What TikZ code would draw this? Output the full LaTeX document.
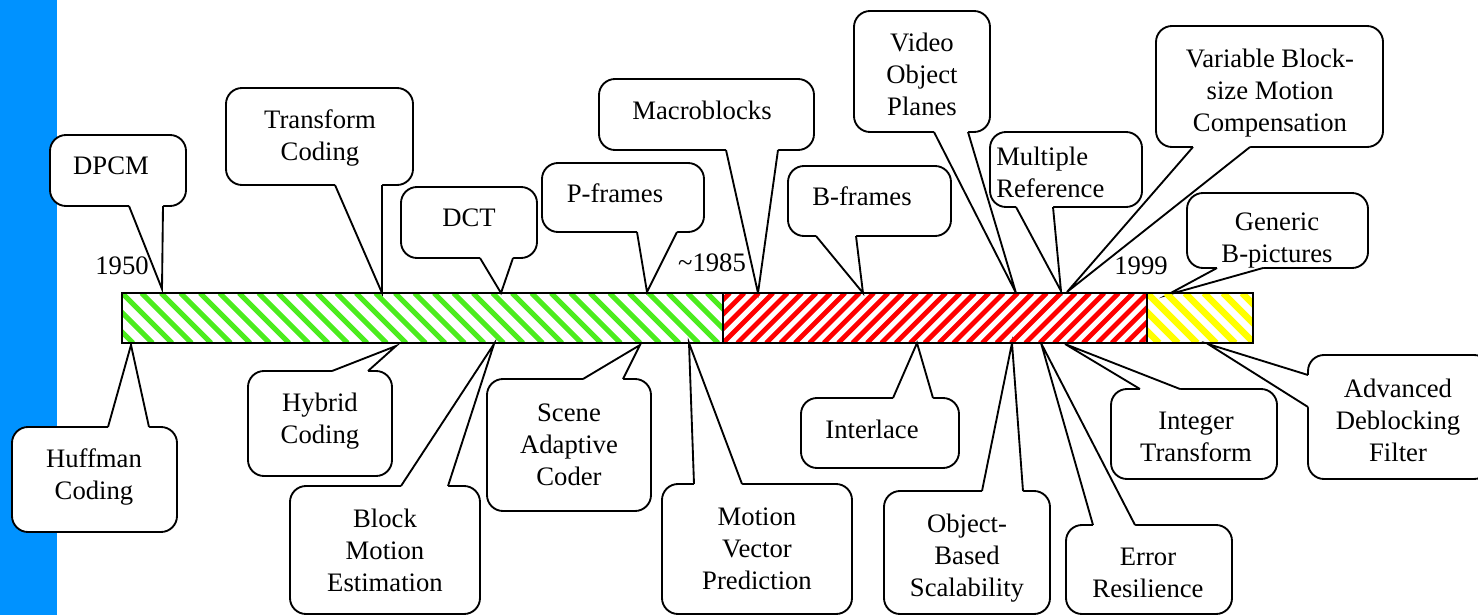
\documentclass[tikz,border=0pt]{standalone}
\usepackage{fontspec}
\setmainfont{Liberation Serif}
\newfontfamily\labelfont{Liberation Serif}
\usetikzlibrary{fit,calc}

\definecolor{sideblue}{RGB}{0,146,255}
\definecolor{hgreen}{RGB}{76,236,30}
\definecolor{hred}{RGB}{255,0,0}
\definecolor{hyellow}{RGB}{255,255,0}

\tikzset{
  cbox/.style={draw, line width=1.4pt, rounded corners=12pt, fill=white,
               inner sep=0pt, outer sep=0pt, fit={#1}},
  % the node centre sits on the middle of the last line's capitals
  ctext/.style={align=center, inner sep=0pt, text height=13.6pt, text depth=0pt,
                font=\labelfont\fontsize{20}{24}\selectfont},
  two lines/.style={yshift=-12pt},
  three lines/.style={yshift=-24pt},
  wedgeline/.style={line width=1.4pt, line join=miter},
  hatch/.style={line width=#1, line cap=butt},
}

% pointer on the lower side of a callout box: #1 box, #2 #3 base x, #4 tip
\newcommand\pointerS[4]{%
  \coordinate (#1-a) at (#2,0 |- #1.south);
  \coordinate (#1-b) at (#3,0 |- #1.south);
  \fill[white] ($(#1-a)+(0,-3)$) -- (#1-a) -- (#4) -- (#1-b) -- ($(#1-b)+(0,-3)$) -- cycle;
  \draw[wedgeline] (#1-a) -- (#4) -- (#1-b);}
% pointer on the upper side of a callout box
\newcommand\pointerN[4]{%
  \coordinate (#1-a) at (#2,0 |- #1.north);
  \coordinate (#1-b) at (#3,0 |- #1.north);
  \fill[white] ($(#1-a)+(0,3)$) -- (#1-a) -- (#4) -- (#1-b) -- ($(#1-b)+(0,3)$) -- cycle;
  \draw[wedgeline] (#1-a) -- (#4) -- (#1-b);}
% pointer on the left side of a callout box: #2 #3 base y
\newcommand\pointerW[4]{%
  \coordinate (#1-a) at (#1.west |- 0,#2);
  \coordinate (#1-b) at (#1.west |- 0,#3);
  \fill[white] ($(#1-a)+(3,0)$) -- (#1-a) -- (#4) -- (#1-b) -- ($(#1-b)+(3,0)$) -- cycle;
  \draw[wedgeline] (#1-a) -- (#4) -- (#1-b);}

\begin{document}
\begin{tikzpicture}[x=0.75pt, y=-0.75pt]
\useasboundingbox (0,0) rectangle (1478,615);

% left band
\fill[sideblue] (0,0) rectangle (57,615);

% ---------- callout boxes above the bar ----------
\node[cbox={(50,135) (186,206)}]   (dpcm) {};
\node[cbox={(226,88) (413,185)}]   (transform) {};
\node[cbox={(401,187) (537,258)}]  (dct) {};
\node[cbox={(542,163) (704,232)}]  (pframes) {};
\node[cbox={(599,79) (814,150)}]   (macro) {};
\node[cbox={(788,166) (951,236)}]  (bframes) {};
\node[cbox={(854,11) (990,132)}]   (vop) {};
\node[cbox={(990,132) (1142,207)}] (multiref) {};
\node[cbox={(1156,26) (1383,147)}] (vbs) {};
\node[cbox={(1187,193) (1368,268)}] (genb) {};

% ---------- callout boxes below the bar ----------
\node[cbox={(12,427) (177,532)}]    (huffman) {};
\node[cbox={(248,371) (392,476)}]   (hybrid) {};
\node[cbox={(290,486) (480,614)}]   (bme) {};
\node[cbox={(487,379) (651,511)}]   (scene) {};
\node[cbox={(662,484) (852,614)}]   (mvp) {};
\node[cbox={(801,398) (959,468)}]   (interlace) {};
\node[cbox={(884,491) (1050,614)}]  (obs) {};
\node[cbox={(1066,525) (1232,614)}] (error) {};
\node[cbox={(1111,389) (1277,479)}] (integer) {};
\node[cbox={(1308,355) (1490,479)}] (adf) {};

% ---------- pointer tips on the time line ----------
\coordinate (dpcm-tip)      at (162,289);
\coordinate (transform-tip) at (382,293);
\coordinate (dct-tip)       at (501,293);
\coordinate (pframes-tip)   at (647,292);
\coordinate (macro-tip)     at (758,293);
\coordinate (bframes-tip)   at (863,293);
\coordinate (vop-tip)       at (1016,293);
\coordinate (multiref-tip)  at (1061,291);
\coordinate (vbs-tip)       at (1067,292);
\coordinate (genb-tip)      at (1167,295);
\coordinate (huffman-tip)   at (131,345);
\coordinate (hybrid-tip)    at (396,346);
\coordinate (bme-tip)       at (494,344);
\coordinate (scene-tip)     at (640,345);
\coordinate (mvp-tip)       at (689,343);
\coordinate (interlace-tip) at (917,343);
\coordinate (obs-tip)       at (1012,343);
\coordinate (error-tip)     at (1041,343);
\coordinate (integer-tip)   at (1065,344);
\coordinate (adf-tip)       at (1208,344);

% ---------- pointers ----------
\pointerS{dpcm}{129}{163}{dpcm-tip}
\pointerS{transform}{335}{382}{transform-tip}
\pointerS{dct}{480}{513}{dct-tip}
\pointerS{pframes}{637}{677}{pframes-tip}
\pointerS{macro}{726}{778}{macro-tip}
\pointerS{bframes}{816}{856}{bframes-tip}
\pointerS{vop}{934}{968}{vop-tip}
\pointerS{multiref}{1016}{1053}{multiref-tip}
\pointerS{vbs}{1193}{1250}{vbs-tip}
\pointerS{genb}{1217}{1263}{genb-tip}
\pointerN{huffman}{108}{149}{huffman-tip}
\pointerN{hybrid}{332}{368}{hybrid-tip}
\pointerN{bme}{401}{448}{bme-tip}
\pointerN{scene}{583}{623}{scene-tip}
\pointerN{mvp}{694}{742}{mvp-tip}
\pointerN{interlace}{893}{933}{interlace-tip}
\pointerN{obs}{982}{1023}{obs-tip}
\pointerN{error}{1093}{1135}{error-tip}
\pointerN{integer}{1140}{1180}{integer-tip}
\pointerW{adf}{375}{407}{adf-tip}

% ---------- texts ----------
\node[ctext] (dpcm-t)      at (111,165)  {DPCM};
\node[ctext, two lines] (transform-t) at (320,135)  {Transform\\Coding};
\node[ctext] (dct-t)       at (469,217)  {DCT};
\node[ctext] (pframes-t)   at (615,193)  {P-frames};
\node[ctext] (macro-t)     at (702,110)  {Macroblocks};
\node[ctext] (bframes-t)   at (862,196)  {B-frames};
\node[ctext, three lines] (vop-t) at (922,74) {Video\\Object\\Planes};
\node[ctext, two lines, align=left, anchor=west] (multiref-t) at (996,172) {Multiple\\Reference};
\node[ctext, three lines] (vbs-t) at (1270,90) {Variable Block-\\size Motion\\Compensation};
\node[ctext, two lines] (genb-t)      at (1277,237) {Generic\\B-pictures};
\node[ctext, two lines] (huffman-t)   at (94,474)   {Huffman\\Coding};
\node[ctext, two lines] (hybrid-t)    at (320,418)  {Hybrid\\Coding};
\node[ctext, three lines] (bme-t)     at (385,550)  {Block\\Motion\\Estimation};
\node[ctext, three lines] (scene-t)   at (569,444)  {Scene\\Adaptive\\Coder};
\node[ctext, three lines] (mvp-t)     at (757,548)  {Motion\\Vector\\Prediction};
\node[ctext] (interlace-t) at (872,429)  {Interlace};
\node[ctext, three lines] (obs-t)     at (967,555)  {Object-\\Based\\Scalability};
\node[ctext, two lines] (error-t)     at (1148,572) {Error\\Resilience};
\node[ctext, two lines] (integer-t)   at (1196,436) {Integer\\Transform};
\node[ctext, three lines] (adf-t)     at (1398,420) {Advanced\\Deblocking\\Filter};

% year marks
\node[ctext] (y1950) at (122,265) {1950};
\node[ctext] (y1985) at (712,262) {\textasciitilde1985};
\node[ctext] (y1999) at (1141,265) {1999};

% ---------- hatched time line ----------
\begin{scope}
  \clip (122,293) rectangle (723,343);
  \foreach \i in {-4,...,32}
    \draw[hgreen, hatch=3.8pt] (122+\i*19.5,293) -- ++(50,50);
\end{scope}
\begin{scope}
  \clip (723,293) rectangle (1147,343);
  \foreach \i in {-4,...,31}
    \draw[hred, hatch=3.6pt] (723+\i*14.4,343) -- ++(50,-50);
\end{scope}
\begin{scope}
  \clip (1147,293) rectangle (1253,343);
  \foreach \i in {-4,...,6}
    \draw[hyellow, hatch=4.8pt] (1147+\i*19,293) -- ++(50,50);
\end{scope}
\node[draw, line width=1.2pt, inner sep=0pt, outer sep=0pt, fit={(122,293) (1253,343)}] (bar) {};
\draw[line width=1.2pt] (723,0 |- bar.north) -- (723,0 |- bar.south);
\draw[line width=1.2pt] (1147,0 |- bar.north) -- (1147,0 |- bar.south);
\end{tikzpicture}
\end{document}
